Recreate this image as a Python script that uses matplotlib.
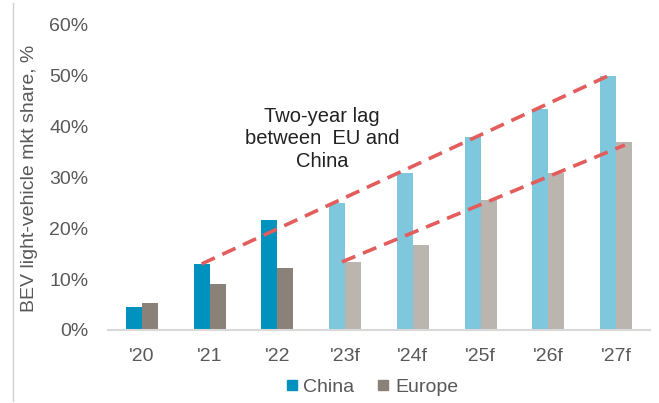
import numpy as np
import matplotlib.pyplot as plt
from matplotlib.lines import Line2D

plt.rcParams['font.family'] = ['Liberation Sans', 'DejaVu Sans']

years = ["'20", "'21", "'22", "'23f", "'24f", "'25f", "'26f", "'27f"]
china = [4.5, 13.0, 21.6, 25.0, 30.9, 38.0, 43.5, 50.0]
europe = [5.3, 9.1, 12.2, 13.4, 16.8, 25.6, 30.9, 37.0]
n_actual = 3  # '20-'22 actual, rest forecast

china_col = ['#0092BE'] * n_actual + ['#7EC7DD'] * (len(years) - n_actual)
europe_col = ['#8A8178'] * n_actual + ['#BAB6AF'] * (len(years) - n_actual)

fig = plt.figure(figsize=(6.59, 4.03), dpi=100)
ax = fig.add_axes([108 / 659, 1 - 330 / 403, 542 / 659, 305 / 403])

x = np.arange(len(years))
w = 0.235
ax.bar(x - w / 2, china, w, color=china_col, zorder=2)
ax.bar(x + w / 2, europe, w, color=europe_col, zorder=2)

# trend lines showing the lag
red = '#E35D5D'
ax.plot([1 - w / 2, 7 - w / 2], [china[1], china[7]], color=red, lw=2.6,
        dashes=(4, 2.3), zorder=3)
ax.plot([3 - w * 0.2, 7 + w * 0.55], [europe[3], europe[7] - 0.6], color=red, lw=2.6,
        dashes=(4, 2.3), zorder=3)

ax.text(2.66, 37.6, 'Two-year lag\nbetween  EU and\nChina', ha='center', va='center',
        multialignment='center', fontsize=14.5, color='#222222', linespacing=1.25)

ax.set_xlim(-0.5, 7.5)
ax.set_ylim(0, 60)
ax.set_yticks(np.arange(0, 61, 10))
ax.set_yticklabels(['%d%%' % v for v in range(0, 61, 10)])
ax.set_xticks(x)
ax.set_xticklabels(years)
ax.tick_params(axis='both', length=0, labelsize=14, colors='#595959')
ax.tick_params(axis='y', pad=14)
ax.tick_params(axis='x', pad=13)
for s in ['top', 'right', 'left']:
    ax.spines[s].set_visible(False)
ax.spines['bottom'].set_color('#D9D9D9')
ax.spines['bottom'].set_linewidth(1.5)

fig.text(30 / 659, 1 - 178 / 403, 'BEV light-vehicle mkt share, %', rotation=90,
         ha='center', va='center', fontsize=14, color='#595959')

# thin frame line at left edge
fig.add_artist(Line2D([12.5 / 659, 12.5 / 659], [0.005, 1 - 3 / 403],
                      transform=fig.transFigure, color='#D0D0D0', lw=1))

handles = [Line2D([], [], ls='', marker='s', markersize=7, color=china_col[0]),
           Line2D([], [], ls='', marker='s', markersize=7, color=europe_col[0])]
fig.legend(handles, ['China', 'Europe'], loc='center', ncol=2,
           bbox_to_anchor=(372 / 659, 1 - 387 / 403), frameon=False,
           fontsize=14, handlelength=0.6, handletextpad=0.3, columnspacing=1.2,
           labelcolor='#595959')

fig.savefig('out.png', dpi=100)
